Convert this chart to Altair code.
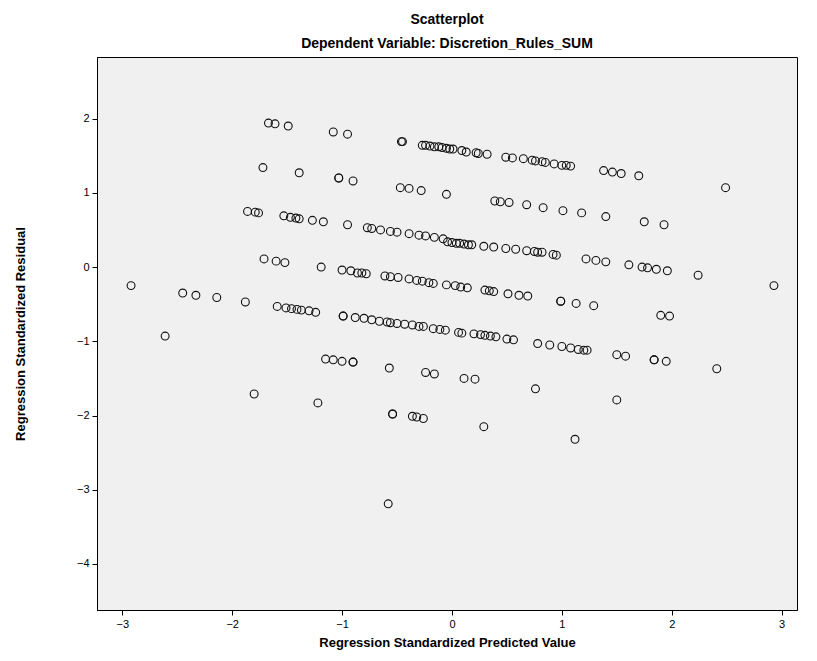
import altair as alt
import pandas as pd

# Regression standardized predicted values (x) and residuals (y)
pred = [
    # band 1
    -1.67, -1.61, -1.49, -1.08, -0.95, -0.46, -0.45, -0.27, -0.24, -0.20, -0.16, -0.12, -0.09, -0.05,
    -0.02, 0.01, 0.09, 0.13, 0.22, 0.24, 0.32, 0.49, 0.55, 0.65, 0.73, 0.76, 0.82, 0.85, 0.93, 1.00,
    1.04, 1.08, 1.38, 1.46, 1.54, 1.70, 2.49,
    # band 2
    -1.72, -1.39, -1.03, -1.03, -0.90, -0.47, -0.39, -0.28, -0.05, 0.39, 0.44, 0.52, 0.68, 0.83,
    1.01, 1.18, 1.40, 1.75, 1.93,
    # band 3
    -1.86, -1.79, -1.76, -1.53, -1.47, -1.42, -1.39, -1.27, -1.17, -0.95, -0.77, -0.73, -0.65, -0.56,
    -0.50, -0.39, -0.30, -0.24, -0.16, -0.08, -0.04, 0.00, 0.04, 0.07, 0.11, 0.15, 0.18, 0.29, 0.38,
    0.49, 0.58, 0.68, 0.75, 0.78, 0.82, 0.92, 0.95, 1.22, 1.31, 1.40, 1.61, 1.73, 1.78, 1.86, 1.96,
    2.24, 2.93,
    # band 4
    -1.71, -1.60, -1.52, -1.19, -1.00, -0.92, -0.86, -0.82, -0.78, -0.61, -0.56, -0.49, -0.39, -0.32,
    -0.27, -0.21, -0.17, -0.05, 0.03, 0.08, 0.14, 0.30, 0.34, 0.38, 0.51, 0.61, 0.69, 0.99, 0.99,
    1.13, 1.29, 1.90, 1.98,
    # band 5
    -2.92, -2.45, -2.33, -2.14, -1.88, -1.59, -1.51, -1.46, -1.41, -1.37, -1.30, -1.24, -0.99, -0.99,
    -0.88, -0.80, -0.73, -0.66, -0.59, -0.56, -0.50, -0.43, -0.36, -0.30, -0.26, -0.17, -0.11, -0.06,
    0.06, 0.09, 0.20, 0.26, 0.30, 0.35, 0.40, 0.50, 0.56, 0.78, 0.89, 1.00, 1.08, 1.15, 1.20, 1.23,
    1.50, 1.58, 1.84, 1.84, 1.95, 2.41,
    # lower points
    -2.61, -1.80, -1.15, -1.08, -1.00, -0.90, -0.90, -0.57, -0.24, -0.16, 0.11, 0.21, 0.76, 1.50,
    -1.22, -0.54, -0.54, -0.36, -0.32, -0.26, 0.29, 1.12, -0.58,
]

resid = [
    # band 1
    1.94, 1.93, 1.90, 1.82, 1.79, 1.69, 1.69, 1.64, 1.64, 1.63, 1.62, 1.62, 1.61, 1.60,
    1.59, 1.59, 1.57, 1.55, 1.54, 1.53, 1.52, 1.48, 1.47, 1.46, 1.44, 1.43, 1.42, 1.41, 1.39, 1.37,
    1.37, 1.36, 1.30, 1.28, 1.26, 1.23, 1.07,
    # band 2
    1.34, 1.27, 1.20, 1.20, 1.16, 1.07, 1.06, 1.03, 0.98, 0.89, 0.88, 0.87, 0.84, 0.80,
    0.76, 0.73, 0.68, 0.61, 0.57,
    # band 3
    0.75, 0.74, 0.73, 0.69, 0.67, 0.66, 0.65, 0.63, 0.61, 0.57, 0.53, 0.52, 0.50, 0.48,
    0.47, 0.45, 0.43, 0.42, 0.40, 0.38, 0.34, 0.33, 0.32, 0.32, 0.31, 0.30, 0.30, 0.28, 0.27,
    0.25, 0.24, 0.22, 0.21, 0.20, 0.20, 0.17, 0.16, 0.11, 0.09, 0.07, 0.03, 0.00, -0.01, -0.03, -0.05,
    -0.11, -0.25,
    # band 4
    0.11, 0.08, 0.06, 0.00, -0.04, -0.05, -0.08, -0.08, -0.09, -0.12, -0.13, -0.14, -0.16, -0.18,
    -0.19, -0.21, -0.22, -0.24, -0.25, -0.27, -0.28, -0.31, -0.32, -0.33, -0.36, -0.38, -0.39, -0.46, -0.46,
    -0.49, -0.52, -0.65, -0.66,
    # band 5
    -0.25, -0.35, -0.38, -0.41, -0.47, -0.53, -0.55, -0.56, -0.57, -0.58, -0.59, -0.61, -0.66, -0.66,
    -0.68, -0.69, -0.71, -0.73, -0.74, -0.75, -0.76, -0.77, -0.78, -0.80, -0.80, -0.83, -0.84, -0.85,
    -0.88, -0.89, -0.90, -0.91, -0.92, -0.93, -0.94, -0.97, -0.98, -1.03, -1.05, -1.07, -1.09, -1.11, -1.12, -1.12,
    -1.18, -1.20, -1.25, -1.25, -1.27, -1.37,
    # lower points
    -0.93, -1.71, -1.24, -1.25, -1.27, -1.28, -1.28, -1.36, -1.42, -1.44, -1.50, -1.51, -1.64, -1.79,
    -1.83, -1.98, -1.98, -2.01, -2.02, -2.04, -2.15, -2.32, -3.19,
]

x_ticks = [-3, -2, -1, 0, 1, 2, 3]
y_ticks = [2, 1, 0, -1, -2, -3, -4]

df = pd.DataFrame({"pred": pred, "resid": resid})

FONT = "Liberation Sans"
W, H = 700, 553

chart = alt.Chart(df).mark_point(
    shape="circle", filled=False, size=62, stroke="#111111", strokeWidth=1.1, opacity=1
).encode(
    x=alt.X("pred:Q",
            scale=alt.Scale(domain=[-3.23, 3.14], nice=False, zero=False),
            axis=alt.Axis(values=x_ticks, format="d", title="Regression Standardized Predicted Value",
                          titleX=W / 2, titleY=32, titleBaseline="middle", titleAlign="center")),
    y=alt.Y("resid:Q",
            scale=alt.Scale(domain=[-4.62, 2.83], nice=False, zero=False),
            axis=alt.Axis(values=y_ticks, format="d", title="Regression Standardized Residual",
                          titleX=-77, titleY=H / 2, titleAngle=270, titleBaseline="middle",
                          titleAlign="center")),
).properties(
    width=W, height=H,
    title=alt.TitleParams(
        text="Scatterplot",
        subtitle="Dependent Variable: Discretion_Rules_SUM",
        anchor="middle", font=FONT, fontSize=14, fontWeight="bold", color="#000",
        subtitleFont=FONT, subtitleFontSize=14, subtitleFontWeight="bold", subtitleColor="#000",
        subtitlePadding=10, offset=6,
    ),
    autosize=alt.AutoSizeParams(type="none"),
    padding={"left": 89, "top": 49, "right": 12, "bottom": 43},
).configure_view(
    fill="#F0F0F0", stroke="#000000", strokeWidth=1
).configure_axis(
    grid=False, domain=True, domainColor="#000", tickColor="#000", tickSize=5, ticks=True,
    labelFont=FONT, labelFontSize=11, labelColor="#000", labelPadding=3,
    titleFont=FONT, titleFontSize=13, titleFontWeight="bold", titleColor="#000",
)

chart.save("out.html", embed_options={"renderer": "svg", "actions": False})
